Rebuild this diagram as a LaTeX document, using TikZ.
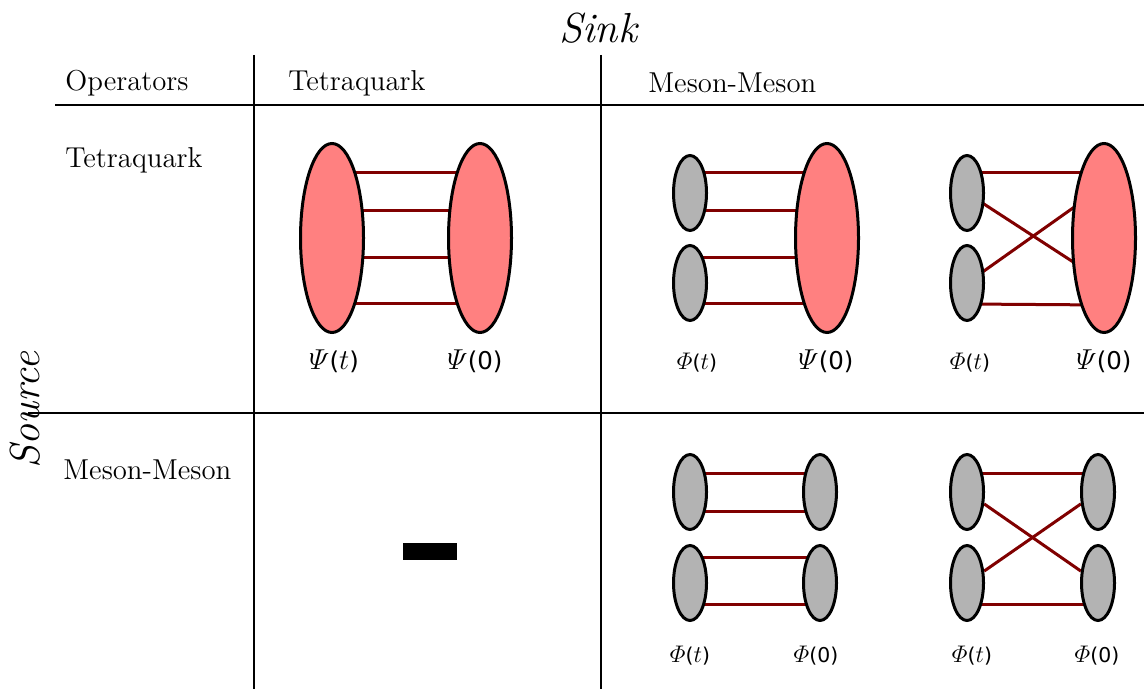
\documentclass[tikz,border=0pt]{standalone}
\usepackage{fontspec}
\newfontfamily\numfont[Scale=0.85]{DejaVu Sans}
\usetikzlibrary{shapes.geometric,backgrounds}

\definecolor{tetrared}{RGB}{255,128,128}
\definecolor{mesongray}{RGB}{179,179,179}
\definecolor{quarkline}{RGB}{128,0,0}

\newcommand{\oplabel}[2]{$\mathnormal{#1}${\numfont(}#2{\numfont)}}

\tikzset{
    tetra/.style={ellipse,draw,line width=1.5pt,fill=tetrared,minimum width=31.5pt,minimum height=94.5pt,inner sep=0pt},
    meson/.style={ellipse,draw,line width=1.5pt,fill=mesongray,minimum width=16.5pt,minimum height=37.5pt,inner sep=0pt},
    quark/.style={quarkline,line width=1.5pt},
    grid/.style={line width=0.8pt},
    head/.style={font=\fontsize{14.4}{17}\selectfont,anchor=west,inner sep=0pt},
    biglab/.style={font=\fontsize{14.4}{17}\selectfont,inner sep=0pt},
    smalllab/.style={font=\fontsize{12}{14}\selectfont,inner sep=0pt},
}

\begin{document}
\begin{tikzpicture}[x=0.5pt,y=-0.5pt]
    \useasboundingbox (0,0) rectangle (1144,689);

    \node[font=\fontsize{21}{25}\selectfont] (sink) at (599,28) {\textit{Sink}};
    \node[font=\fontsize{21}{25}\selectfont,rotate=90] (source) at (25,410) {\textit{Source}};

    \draw[grid] (55,105) -- (1144,105);
    \draw[grid] (28,413) -- (1144,413);
    \draw[grid] (254,55) -- (254,689);
    \draw[grid] (601,55) -- (601,689);

    \node[head] (h-op) at (65,83) {Operators};
    \node[head] (h-tetra) at (288,83) {Tetraquark};
    \node[head] (h-mm) at (648,83) {Meson-Meson};
    \node[head] (r-tetra) at (65,160) {Tetraquark};
    \node[head] (r-mm) at (63,470) {Meson-Meson};

    % tetraquark -> tetraquark
    \node[tetra] (tt-a) at (332,238) {};
    \node[tetra] (tt-b) at (480,238) {};
    \begin{scope}[on background layer]
        \foreach \dy in {32.5,13.5,-10,-33}
            \draw[quark] ([yshift=\dy pt]tt-a.center) -- ([yshift=\dy pt]tt-b.center);
    \end{scope}
    \node[biglab] (tt-la) at (334,361) {\oplabel{\Psi}{$t$}};
    \node[biglab] (tt-lb) at (475,361) {\oplabel{\Psi}{\numfont 0}};

    % tetraquark -> meson-meson
    \node[meson] (tm-a1) at (690,193) {};
    \node[meson] (tm-a2) at (690,283) {};
    \node[tetra] (tm-b) at (827,238) {};
    \begin{scope}[on background layer]
        \foreach \a/\da/\db in {1/10/32.5, 1/-9/13.5, 2/12.5/-10, 2/-10.5/-33}
            \draw[quark] ([yshift=\da pt]tm-a\a.center) -- ([yshift=\db pt]tm-b.center);
    \end{scope}
    \node[smalllab] (tm-la) at (697,363) {\oplabel{\Phi}{$t$}};
    \node[biglab] (tm-lb) at (826,361) {\oplabel{\Psi}{\numfont 0}};

    \node[meson] (tx-a1) at (967,193) {};
    \node[meson] (tx-a2) at (967,283) {};
    \node[tetra] (tx-b) at (1104,238) {};
    \begin{scope}[on background layer]
        \foreach \a/\da/\db in {1/10/32.5, 2/-10.5/-33.5, 1/0/-22, 2/0/26}
            \draw[quark] ([yshift=\da pt]tx-a\a.center) -- ([yshift=\db pt]tx-b.center);
    \end{scope}
    \node[smalllab] (tx-la) at (970,363) {\oplabel{\Phi}{$t$}};
    \node[biglab] (tx-lb) at (1104,361) {\oplabel{\Psi}{\numfont 0}};

    % meson-meson -> tetraquark
    \node[fill,minimum width=27pt,minimum height=8.5pt,inner sep=0pt] (mt-none) at (430,551.5) {};

    % meson-meson -> meson-meson
    \node[meson] (mm-a1) at (690,492) {};
    \node[meson] (mm-a2) at (690,583) {};
    \node[meson] (mm-b1) at (820,492) {};
    \node[meson] (mm-b2) at (820,583) {};
    \begin{scope}[on background layer]
        \foreach \a/\dy in {1/9.5, 1/-9.5, 2/13, 2/-10.5}
            \draw[quark] ([yshift=\dy pt]mm-a\a.center) -- ([yshift=\dy pt]mm-b\a.center);
    \end{scope}
    \node[smalllab] (mm-la) at (690,656) {\oplabel{\Phi}{$t$}};
    \node[smalllab] (mm-lb) at (816,656) {\oplabel{\Phi}{\numfont 0}};

    \node[meson] (mx-a1) at (967,492) {};
    \node[meson] (mx-a2) at (967,583) {};
    \node[meson] (mx-b1) at (1098,492) {};
    \node[meson] (mx-b2) at (1098,583) {};
    \begin{scope}[on background layer]
        \draw[quark] ([yshift=9.5pt]mx-a1.center) -- ([yshift=9.5pt]mx-b1.center);
        \draw[quark] ([yshift=-10.5pt]mx-a2.center) -- ([yshift=-10.5pt]mx-b2.center);
        \draw[quark] (mx-a1) -- (mx-b2);
        \draw[quark] (mx-a2) -- (mx-b1);
    \end{scope}
    \node[smalllab] (mx-la) at (972,656) {\oplabel{\Phi}{$t$}};
    \node[smalllab] (mx-lb) at (1097,656) {\oplabel{\Phi}{\numfont 0}};
\end{tikzpicture}
\end{document}
